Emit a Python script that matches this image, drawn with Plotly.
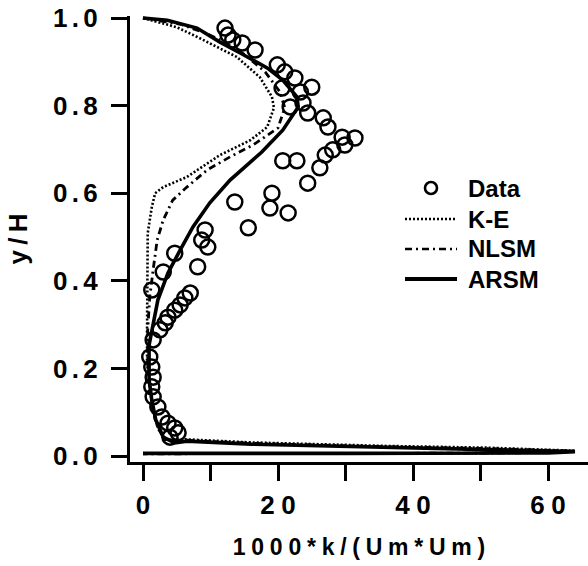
import plotly.graph_objects as go

# ---------------- data ----------------
data_x = [12.15, 12.6, 13.3, 14.7, 16.6, 19.9, 21.0, 22.5, 20.6, 23.3, 25.0, 21.8, 23.7, 24.4,
          26.7, 27.4, 29.5, 31.4, 29.9, 28.1, 27.0, 20.7, 22.8, 26.2, 24.4, 19.1, 13.6, 18.8,
          21.5, 15.6, 9.2, 8.7, 9.6, 8.1, 4.7, 3.0, 1.3, 7.0, 6.2, 5.5, 4.7, 3.7, 3.3, 2.5,
          1.5, 1.0, 1.3, 1.5, 1.3, 1.5, 2.2, 2.8, 3.7, 4.7, 5.2, 4.0]
data_y = [0.977, 0.961, 0.950, 0.943, 0.927, 0.893, 0.877, 0.863, 0.840, 0.831, 0.842, 0.797,
          0.806, 0.783, 0.772, 0.751, 0.728, 0.726, 0.710, 0.699, 0.687, 0.674, 0.674, 0.658,
          0.623, 0.600, 0.580, 0.566, 0.555, 0.521, 0.516, 0.493, 0.477, 0.432, 0.463, 0.420,
          0.379, 0.372, 0.361, 0.345, 0.333, 0.317, 0.304, 0.288, 0.265, 0.226, 0.203, 0.180,
          0.158, 0.135, 0.112, 0.089, 0.075, 0.064, 0.053, 0.043]

ke_x = [0, 5.0, 8.0, 11.0, 13.9, 17.3, 19.1, 19.4, 18.4, 15.9, 11.4, 6.5, 3.0, 1.8, 1.3, 0.7,
        0.6, 0.6, 0.6, 1.0, 1.5, 2.2, 3.3, 6.5, 16.0, 36.0, 51.0, 64.0, 60.0, 50.0, 30.0, 0.0]
ke_y = [1.0, 0.979, 0.957, 0.934, 0.911, 0.865, 0.820, 0.795, 0.751, 0.721, 0.687, 0.637, 0.614,
        0.600, 0.568, 0.509, 0.402, 0.288, 0.212, 0.158, 0.105, 0.064, 0.037, 0.038, 0.031,
        0.023, 0.019, 0.012, 0.008, 0.0065, 0.006, 0.005]

nlsm_x = [0, 5.5, 9.2, 12.1, 15.1, 18.1, 20.3, 21.0, 20.0, 16.3, 12.9, 9.5, 6.5, 4.4, 3.0, 2.1,
          1.5, 1.0, 0.7, 0.7, 1.0, 1.5, 2.2, 3.3, 6.5, 16.0, 36.0, 51.0, 64.0, 60.0, 50.0, 30.0, 0.0]
nlsm_y = [1.0, 0.986, 0.966, 0.945, 0.916, 0.877, 0.831, 0.795, 0.749, 0.710, 0.683, 0.653,
          0.614, 0.584, 0.539, 0.493, 0.425, 0.363, 0.288, 0.212, 0.158, 0.105, 0.064, 0.037,
          0.036, 0.029, 0.021, 0.017, 0.011, 0.008, 0.0065, 0.006, 0.005]

arsm_x = [0, 3.6, 8.0, 11.4, 14.4, 18.4, 20.7, 22.8, 23.0, 20.7, 17.6, 12.9, 9.9, 7.4, 5.5, 3.7,
          2.2, 1.5, 0.9, 0.9, 1.3, 1.9, 3.0, 4.7, 6.5, 16.0, 36.0, 51.0, 64.0, 60.0, 50.0, 30.0, 0.0]
arsm_y = [1.0, 0.995, 0.977, 0.945, 0.920, 0.886, 0.858, 0.820, 0.797, 0.744, 0.694, 0.630,
          0.578, 0.523, 0.470, 0.418, 0.356, 0.304, 0.253, 0.174, 0.128, 0.082, 0.043, 0.030,
          0.034, 0.027, 0.020, 0.016, 0.010, 0.007, 0.006, 0.006, 0.006]

x_tickvals = [0, 10, 20, 30, 40, 50, 60]
x_ticklabels = ["0", "", "20", "", "40", "", "60"]
y_tickvals = [0.0, 0.2, 0.4, 0.6, 0.8, 1.0]
y_ticklabels = ["0.0", "0.2", "0.4", "0.6", "0.8", "1.0"]
x_title = "1000*k/(Um*Um)"
y_title = "y/H"
legend_labels = ["Data", "K-E", "NLSM", "ARSM"]


def spaced(s, sp="\u2005"):
    """Wide tracking like the original typesetting."""
    return sp.join(list(s))


# ---------------- figure ----------------
W, H = 588, 566
ML, MR, MT, MB = 130, 0, 16, 104
FAM = "Liberation Sans, Arial, sans-serif"
FONT = dict(family=FAM, size=26, color="black", weight="bold")
TFONT = dict(family=FAM, size=23, color="black", weight="bold")

fig = go.Figure()
fig.add_trace(go.Scatter(x=ke_x, y=ke_y, mode="lines", name="K-E",
                         line=dict(color="black", width=2.6, dash="2px,2px")))
fig.add_trace(go.Scatter(x=nlsm_x, y=nlsm_y, mode="lines", name="NLSM",
                         line=dict(color="black", width=2.8, dash="7px,4px,2px,4px")))
fig.add_trace(go.Scatter(x=arsm_x, y=arsm_y, mode="lines", name="ARSM",
                         line=dict(color="black", width=3.6)))
fig.add_trace(go.Scatter(x=data_x, y=data_y, mode="markers", name="Data",
                         marker=dict(symbol="circle-open", size=15, color="black",
                                     line=dict(width=2.5, color="black"))))

# manual legend (paper coords computed from pixel positions)
pw, ph = W - ML - MR, H - MT - MB


def px2paper(px, py):
    return (px - ML) / pw, 1 - (py - MT) / ph


rows_py = [188, 219, 249, 279]
dashes = [None, "2px,2px", "7px,4px,2px,4px", "solid"]
widths = [0, 2.4, 2.6, 3.8]
shapes = []
annotations = []
for i, lab in enumerate(legend_labels):
    py = rows_py[i]
    if i == 0:
        cx, cy = px2paper(431, py)
        shapes.append(dict(type="circle", xref="paper", yref="paper",
                           xsizemode="pixel", ysizemode="pixel",
                           xanchor=cx, yanchor=cy, x0=-6, x1=6, y0=-6, y1=6,
                           line=dict(color="black", width=2.6)))
    else:
        x0, y0 = px2paper(405, py)
        x1, _ = px2paper(457, py)
        shapes.append(dict(type="line", xref="paper", yref="paper", x0=x0, x1=x1, y0=y0, y1=y0,
                           line=dict(color="black", width=widths[i], dash=dashes[i])))
    tx, ty = px2paper(466, py)
    annotations.append(dict(text=lab, xref="paper", yref="paper", x=tx, y=ty,
                            xanchor="left", yanchor="middle", showarrow=False,
                            font=dict(family=FAM, size=24, color="black", weight="bold")))

fig.update_layout(
    width=W, height=H,
    margin=dict(l=ML, r=MR, t=MT, b=MB),
    paper_bgcolor="white", plot_bgcolor="white",
    showlegend=False,
    font=FONT,
    shapes=shapes,
    annotations=annotations,
)
fig.update_xaxes(
    range=[-13 / 6.75, (588 - 143) / 6.75],
    tickvals=x_tickvals, ticktext=[spaced(t, "\u2005") for t in x_ticklabels],
    ticks="outside", ticklen=16, tickwidth=2.5, tickcolor="black",
    showline=True, linewidth=3, linecolor="black",
    showgrid=False, zeroline=False,
    tickfont=FONT, ticklabelstandoff=2,
    title=dict(text=spaced(x_title, "\u2005"), font=TFONT, standoff=20),
)
fig.update_yaxes(
    range=[(456 - 462) / 438, (456 - 16) / 438],
    tickvals=y_tickvals, ticktext=[spaced(t, "\u2006") for t in y_ticklabels],
    ticks="outside", ticklen=16, tickwidth=2.5, tickcolor="black",
    showline=True, linewidth=3, linecolor="black",
    showgrid=False, zeroline=False,
    tickfont=FONT, ticklabelstandoff=8,
    title=dict(text=spaced(y_title, "\u2009"), font=FONT, standoff=18),
)

fig.write_html("out.html")
